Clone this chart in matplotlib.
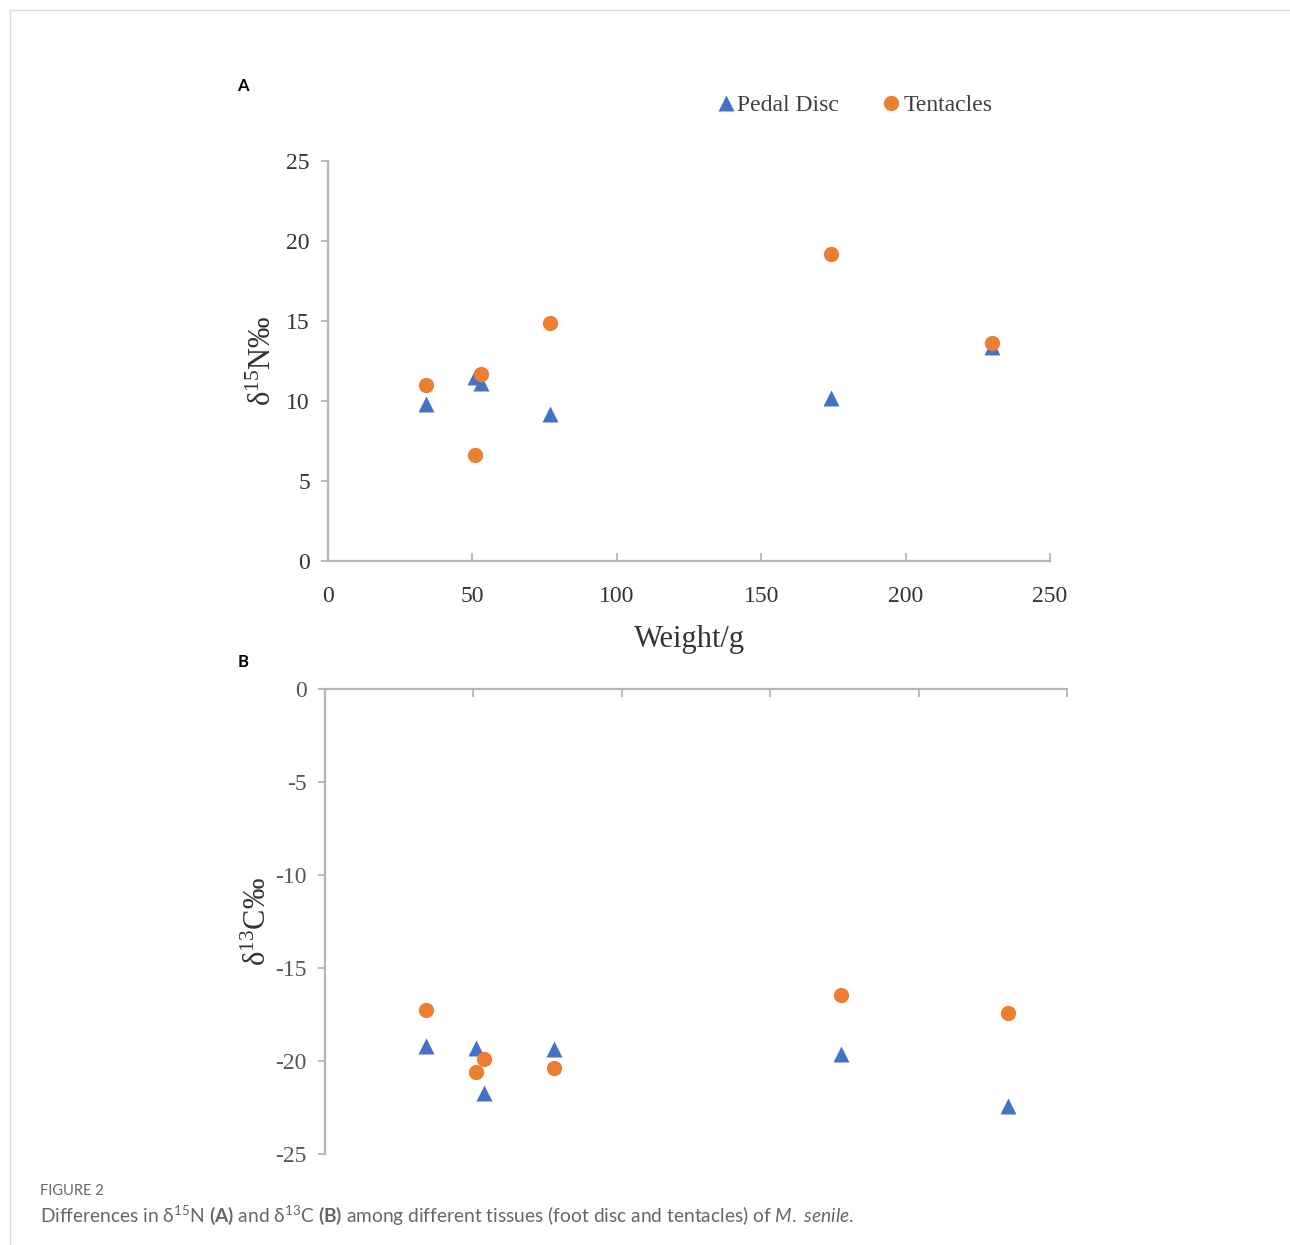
import numpy as np
import matplotlib.pyplot as plt
from matplotlib.lines import Line2D

plt.rcParams['mathtext.fontset'] = 'custom'
plt.rcParams['mathtext.rm'] = 'Lato'
plt.rcParams['mathtext.bf'] = 'Lato:bold'
plt.rcParams['mathtext.it'] = 'Lato:italic'
plt.rcParams['axes.unicode_minus'] = False

# data
weight = [34, 51, 53, 77, 174, 230]
n15_pedal = [9.8, 11.5, 11.1, 9.2, 10.2, 13.4]
n15_tent = [11.0, 6.6, 11.7, 14.9, 19.2, 13.6]

weight_b_pedal = [34, 51, 53.5, 77, 174, 230]
weight_b_tent = [34, 51, 53.5, 77, 174, 230]
c13_pedal = [-19.2, -19.3, -21.7, -19.35, -19.6, -22.4]
c13_tent = [-17.25, -20.6, -19.9, -20.4, -16.45, -17.4]

xticks = [0, 50, 100, 150, 200, 250]
yticks_a = [0, 5, 10, 15, 20, 25]
yticks_b = [0, -5, -10, -15, -20, -25]

blue = '#4472C4'
orange = '#ED7D31'
axcol = '#b4b4b4'
serif = ['Liberation Serif', 'DejaVu Serif']

fig = plt.figure(figsize=(12.9, 12.45), dpi=100)

# ---- panel A
ax1 = fig.add_axes([328/1290, 1-561/1245, 722/1290, 400/1245])
ax1.plot(weight, n15_pedal, '^', color=blue, ms=11, mec='none', label='Pedal Disc')
ax1.plot(weight, n15_tent, 'o', color=orange, ms=11, mec='none', label='Tentacles')
ax1.set_xlim(0, 250)
ax1.set_ylim(0, 25)
ax1.set_xticks(xticks)
ax1.set_yticks(yticks_a)
for s in ['top', 'right']:
    ax1.spines[s].set_visible(False)
for s in ['left', 'bottom']:
    ax1.spines[s].set_color(axcol)
    ax1.spines[s].set_linewidth(1.6)
ax1.tick_params(axis='x', direction='in', length=6, width=1.3, color=axcol, pad=18,
                labelsize=17, labelcolor='#333333')
ax1.tick_params(axis='y', direction='out', length=5, width=1.3, color=axcol, pad=8,
                labelsize=17, labelcolor='#333333')
for lab in ax1.get_xticklabels() + ax1.get_yticklabels():
    lab.set_family(serif)
ax1.set_xlabel('Weight/g', family=serif, fontsize=22, color='#333333', labelpad=13)
ax1.set_ylabel(r'δ$\mathregular{^{15}}$N‰', family=serif, fontsize=22, color='#333333', labelpad=6)

fig.legend(loc='center', bbox_to_anchor=(853/1290, 1-105/1245), ncol=2, frameon=False,
           handletextpad=0.0, columnspacing=1.7, handlelength=1.0,
           prop={'family': serif, 'size': 17}, labelcolor='#404040')

# ---- panel B
ax2 = fig.add_axes([325/1290, 1-1154/1245, 742/1290, 465/1245])
ax2.plot(weight_b_pedal, c13_pedal, '^', color=blue, ms=11, mec='none')
ax2.plot(weight_b_tent, c13_tent, 'o', color=orange, ms=11, mec='none')
ax2.set_xlim(0, 250)
ax2.set_ylim(-25, 0)
ax2.set_xticks(xticks)
ax2.set_yticks(yticks_b)
ax2.xaxis.tick_top()
ax2.spines['bottom'].set_visible(False)
ax2.spines['right'].set_visible(False)
for s in ['left', 'top']:
    ax2.spines[s].set_color(axcol)
    ax2.spines[s].set_linewidth(1.6)
ax2.tick_params(axis='x', direction='in', length=6, width=1.3, color=axcol,
                labeltop=False, labelbottom=False)
ax2.tick_params(axis='y', direction='out', length=5, width=1.3, color=axcol, pad=8,
                labelsize=17, labelcolor='#555555')
for lab in ax2.get_yticklabels():
    lab.set_family(serif)
ax2.set_ylabel(r'δ$\mathregular{^{13}}$C‰', family=serif, fontsize=22, color='#333333', labelpad=2)

# panel letters
fig.text(243/1290, 1-86/1245, 'A', fontsize=12, fontweight='bold', family='Lato',
         ha='center', va='center')
fig.text(243/1290, 1-662/1245, 'B', fontsize=12, fontweight='bold', family='Lato',
         ha='center', va='center')

# frame lines
fig.add_artist(Line2D([10/1290, 10/1290], [0, 1-10/1245], color='#d9d9d9', lw=1))
fig.add_artist(Line2D([10/1290, 1], [1-10/1245, 1-10/1245], color='#d9d9d9', lw=1))

# caption
fig.text(40/1290, 1-1191/1245, 'FIGURE 2', fontsize=10.5, family='Lato', color='#666666',
         ha='left', va='center')
fig.text(40/1290, 1-1215/1245,
         r'Differences in δ$^{15}$N $\mathbf{(A)}$ and δ$^{13}$C $\mathbf{(B)}$ among different '
         r'tissues (foot disc and tentacles) of $\mathit{M.}$ $\mathit{senile}$.',
         fontsize=13.8, family='Lato', color='#666666', ha='left', va='center')

fig.savefig('out.png', dpi=100)
